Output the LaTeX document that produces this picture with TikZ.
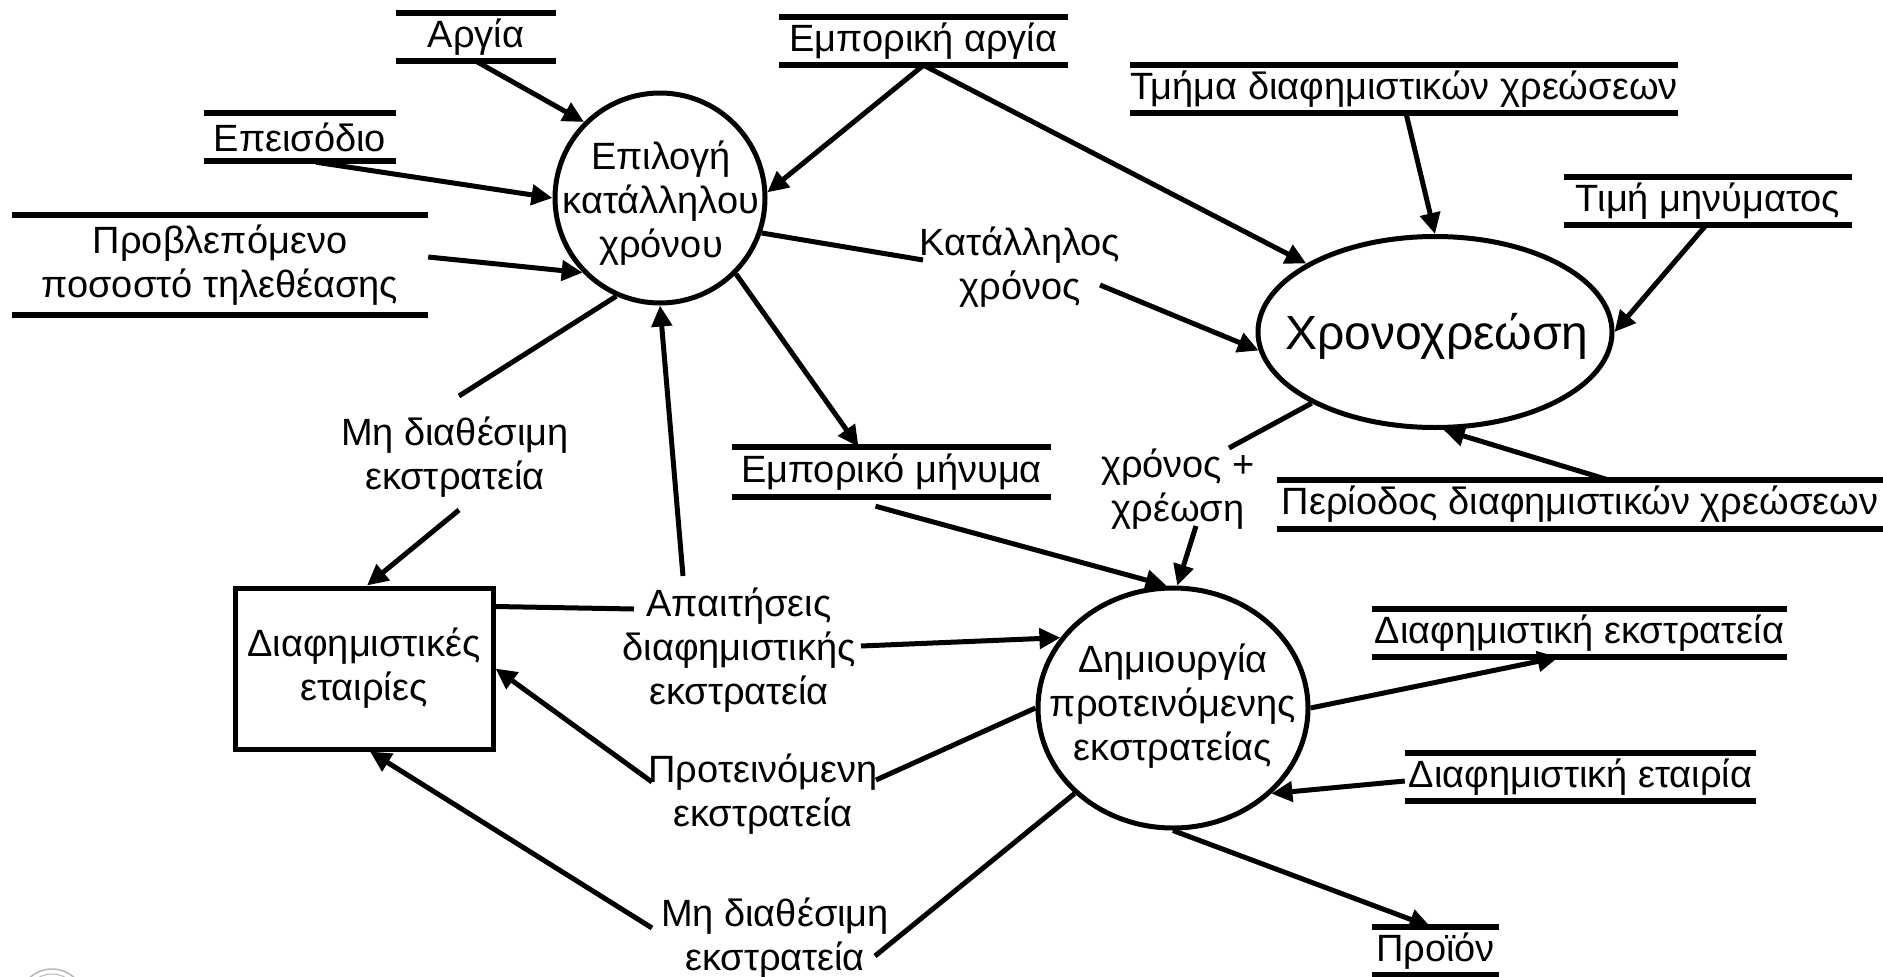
\documentclass[tikz,border=0pt]{standalone}
\usepackage{fontspec}
\setmainfont{Liberation Sans}
\usetikzlibrary{arrows.meta,calc,shapes.geometric}
\begin{document}
\begin{tikzpicture}[x=1pt,y=-1pt,
  every node/.style={font=\fontsize{38}{44}\selectfont},
  store/.style={inner sep=0pt, align=center},
  stline/.style={line width=6.5pt},
  proc/.style={ellipse, draw, line width=5pt, inner sep=0pt},
  entity/.style={rectangle, draw, line width=5pt, inner sep=0pt, align=center},
  lbl/.style={align=center, inner sep=0pt},
  flow/.style={line width=5pt, -{Triangle[length=21pt,width=20pt]}},
  seg/.style={line width=5pt},
  logo/.style={draw=gray!55, line width=1.5pt}
]
\useasboundingbox (0,0) rectangle (1883,977);
\fill[white] (0,0) rectangle (1883,977);

% processes
\node[proc, minimum width=210pt, minimum height=210pt] (c1) at (660,198) {};
\node[lbl] (c1t) at (661,203) {Επιλογή\\κατάλληλου\\χρόνου};
\node[proc, minimum width=354pt, minimum height=191pt] (c2) at (1435,332) {};
\node[lbl, font=\fontsize{48}{56}\selectfont] (c2t) at (1437,336) {Χρονοχρεώση};
\node[proc, minimum width=270pt, minimum height=240pt] (c3) at (1173,708) {};
\node[lbl] (c3t) at (1173,706) {Δημιουργία\\προτεινόμενης\\εκστρατείας};

% external entity
\node[entity, minimum width=258pt, minimum height=161pt] (box) at (364,668.5) {Διαφημιστικές\\εταιρίες};

% data stores
\node[store, minimum width=160pt, minimum height=48pt] (argia) at (476,37) {Αργία};
\node[store, minimum width=289pt, minimum height=48pt] (emparg) at (923.5,41) {Εμπορική αργία};
\node[store, minimum width=192pt, minimum height=48pt] (epeis) at (300,137) {Επεισόδιο};
\node[store, minimum width=416pt, minimum height=100pt] (provl) at (220,265) {Προβλεπόμενο\\ποσοστό τηλεθέασης};
\node[store, minimum width=544pt, minimum height=48pt] (tmima) at (1404,89) {Τμήμα διαφημιστικών χρεώσεων};
\node[store, minimum width=288pt, minimum height=48pt] (timi) at (1708,201) {Τιμή μηνύματος};
\node[store, minimum width=319pt, minimum height=50pt] (empmin) at (891.5,472) {Εμπορικό μήνυμα};
\node[store, minimum width=606pt, minimum height=49pt] (period) at (1580,504.5) {Περίοδος διαφημιστικών χρεώσεων};
\node[store, minimum width=415pt, minimum height=48pt] (dexstr) at (1579.5,633) {Διαφημιστική εκστρατεία};
\node[store, minimum width=351pt, minimum height=48pt] (detair) at (1580.5,777) {Διαφημιστική εταιρία};
\node[store, minimum width=127pt, minimum height=48pt] (proion) at (1435.5,951) {Προϊόν};
\foreach \n in {argia,emparg,epeis,provl,tmima,timi,empmin,period,dexstr,detair,proion}
  \draw[stline] (\n.north west) -- (\n.north east) (\n.south west) -- (\n.south east);

% flow labels
\node[lbl] (katal) at (1020,267) {Κατάλληλος\\χρόνος};
\node[lbl] (mh1) at (455,457) {Μη διαθέσιμη\\εκστρατεία};
\node[lbl] (xronos) at (1178,489) {χρόνος +\\χρέωση};
\node[lbl] (apait) at (739,650) {Απαιτήσεις\\διαφημιστικής\\εκστρατεία};
\node[lbl] (protein) at (763,794) {Προτεινόμενη\\εκστρατεία};
\node[lbl] (mh2) at (775,938) {Μη διαθέσιμη\\εκστρατεία};

% connectors
\draw[flow] (argia.south) -- (c1.135);
\draw[flow] ($(epeis.south)+(16,1)$) -- (c1.180);
\draw[flow] ($(provl.east)+(0,-8)$) -- (c1.224);
\draw[flow] (emparg.south) -- (c1.3);
\draw[flow] (emparg.south) -- (c2.152);
\draw[seg] (c1.-19) -- ($(katal)+(-97,-7)$);
\draw[flow] ($(katal)+(80,18)$) -- (c2.186);
\draw[seg] (c1.246) -- ($(mh1)+(4,-61)$);
\draw[flow] ($(mh1)+(4,53)$) -- ($(box.north)+(3,0)$);
\draw[flow] ($(apait)+(-56,-74)$) -- (c1.270);
\draw[flow] (c1.-45) -- ($(empmin.north)+(-33,0)$);
\draw[flow] ($(empmin.south)+(-16,9)$) -- (c3.93);
\draw[flow] ($(tmima.south)+(2,0)$) -- (c2.north);
\draw[flow] ($(timi.south)+(-2,0)$) -- (c2.east);
\draw[flow] ($(period.north)+(28,0)$) -- (c2.-85);
\draw[seg] (c2.210) -- ($(xronos)+(51,-41)$);
\draw[flow] ($(xronos)+(18,37)$) -- (c3.88);
\draw[seg] ($(box.north east)+(0,21)$) -- ($(apait)+(-105,-41)$);
\draw[flow] ($(apait)+(122,-4)$) -- (c3.148);
\draw[seg] (c3.west) -- ($(protein)+(113,-14)$);
\draw[flow] ($(protein)+(-111,-12)$) -- (box.east);
\draw[seg] (c3.221) -- ($(mh2)+(100,18)$);
\draw[flow] ($(mh2)+(-123,-10)$) -- ($(box.south)+(6,0)$);
\draw[flow] (c3.east) -- ($(dexstr.south)+(-21,0)$);
\draw[flow] ($(detair.west)+(0,4)$) -- (c3.-41);
\draw[flow] (c3.south) -- ($(proion.north)+(-5,0)$);

% partial logo at bottom-left
\begin{scope}
\clip (0,0) rectangle (1883,977);
\draw[logo] (52,1002) circle (33pt);
\draw[logo, line width=1pt] (52,1002) circle (28pt);
\end{scope}
\end{tikzpicture}
\end{document}
